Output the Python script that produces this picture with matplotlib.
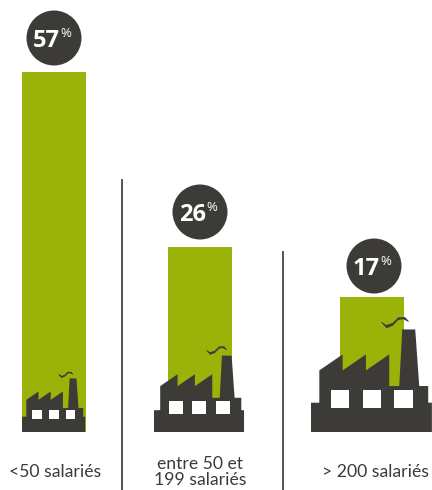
import matplotlib
matplotlib.use("Agg")
from matplotlib import pyplot as plt
from matplotlib.patches import Circle, Polygon, Rectangle

# values
labels = ["<50 salariés", "entre 50 et\n199 salariés", "> 200 salariés"]
percents = ["57", "26", "17"]
bar_heights = [360, 185, 135]

bar_left = [22, 168, 340]
bar_width = 64
icon_left = [22, 154, 311]
icon_scale = [0.174, 0.248, 0.333]
bubble_x = [54, 200, 374]
bubble_y = [394, 220, 166]
label_x = [55, 200, 376]
label_y = [-40, -40, -40]
sep_x = [122, 283]
sep_top = [253, 181]

green = "#9bb208"
dark = "#3d3b37"

# factory outline, drawn once and scaled for each bar
factory = [(0, 0), (0, 88), (25, 88), (25, 185), (95, 233), (95, 185), (165, 233),
           (165, 185), (235, 233), (235, 138), (265, 138), (274, 308), (313, 308),
           (325, 138), (352, 138), (352, 88), (363, 88), (363, 0)]
windows = [(59, 73), (155, 73), (250, 73)]
window_w = 56
window_h = 54
smoke = [(212, 330), (225, 320), (245, 326), (262, 343), (282, 344), (293, 332),
         (277, 340), (262, 338), (245, 320), (227, 313)]

fig = plt.figure(figsize=(4.32, 4.90), dpi=100)
ax = fig.add_axes([0, 0, 1, 1])
ax.set_xlim(0, 432)
ax.set_ylim(-58, 432)
ax.axis("off")

ax.bar(bar_left, bar_heights, width=bar_width, align="edge", color=green, linewidth=0)

for x0, s in zip(icon_left, icon_scale):
    ax.add_patch(Polygon([(x0 + x * s, y * s) for x, y in factory], color=dark, lw=0, zorder=3))
    ax.add_patch(Polygon([(x0 + x * s, y * s) for x, y in smoke], facecolor=dark, edgecolor=dark,
                         lw=0.5, zorder=3))
    for wx, wy in windows:
        ax.add_patch(Rectangle((x0 + wx * s, wy * s), window_w * s, window_h * s,
                               color="white", lw=0, zorder=4))

for x, y, p in zip(bubble_x, bubble_y, percents):
    ax.add_patch(Circle((x, y), 27.5, color=dark, lw=0, zorder=3))
    ax.text(x + 6, y - 9, p, color="white", fontsize=17, fontweight="bold", family="Open Sans",
            ha="right", va="baseline", zorder=5)
    ax.text(x + 6, y + 1, "%", color="white", fontsize=9.5, family="Open Sans",
            ha="left", va="baseline", zorder=5)

for x, top in zip(sep_x, sep_top):
    ax.plot([x, x], [-58, top], color="#55544f", lw=1.4, solid_capstyle="butt")

for x, y, t in zip(label_x, label_y, labels):
    ax.text(x, y, t, color=dark, fontsize=12.7, family="Lato", ha="center", va="center", linespacing=1.0)

fig.savefig("out.png", dpi=100)
